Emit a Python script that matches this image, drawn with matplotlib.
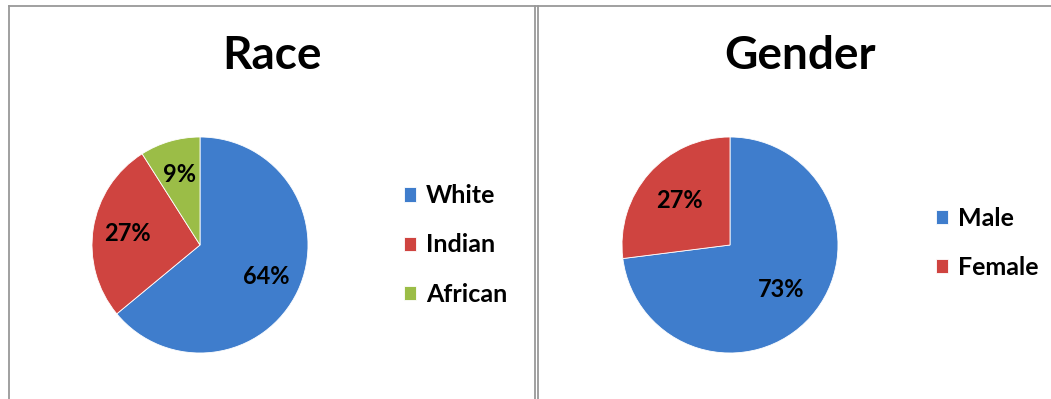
import matplotlib.pyplot as plt
from matplotlib.lines import Line2D

# race breakdown (percent)
race_labels = ['White', 'Indian', 'African']
race_values = [64, 27, 9]
race_colors = ['#3f7dcc', '#cf4440', '#9bbd47']

# gender breakdown (percent)
gender_labels = ['Male', 'Female']
gender_values = [73, 27]
gender_colors = ['#3f7dcc', '#cf4440']

W, H = 1051, 399
plt.rcParams['font.family'] = ['Lato', 'DejaVu Sans']
plt.rcParams['font.weight'] = 'bold'

fig = plt.figure(figsize=(W / 100, H / 100), dpi=100)


def px_axes(cx, cy, r):
    # axes box in figure fractions from a pixel centre and radius
    return fig.add_axes([(cx - r) / W, 1 - (cy + r) / H, 2 * r / W, 2 * r / H])


def draw_pie(ax, values, labels, colors, pct_dist):
    wedges, texts, autotexts = ax.pie(
        values, colors=colors, startangle=90, counterclock=False,
        autopct=lambda p: f'{p:.0f}%', pctdistance=pct_dist, radius=1,
        wedgeprops=dict(edgecolor='white', linewidth=0.6),
        textprops=dict(fontsize=17, fontweight='bold', color='black'))
    ax.set_xlim(-1, 1)
    ax.set_ylim(-1, 1)
    ax.set_aspect('equal')
    ax.axis('off')
    return wedges


ax1 = px_axes(200, 245, 108)
w1 = draw_pie(ax1, race_values, race_labels, race_colors, 0.68)
ax2 = px_axes(730, 245, 108)
w2 = draw_pie(ax2, gender_values, gender_labels, gender_colors, 0.63)

fig.text(272 / W, 1 - 56 / H, 'Race', ha='center', va='center',
         fontsize=33, fontweight='bold')
fig.text(800 / W, 1 - 56 / H, 'Gender', ha='center', va='center',
         fontsize=33, fontweight='bold')

leg_kw = dict(frameon=False, fontsize=18, handlelength=0.5, handleheight=0.5,
              handletextpad=0.4, labelspacing=1.05, borderpad=0,
              loc='center left')
fig.legend(w1, race_labels, bbox_to_anchor=(391 / W, 1 - 245 / H), **leg_kw)
fig.legend(w2, gender_labels, bbox_to_anchor=(923 / W, 1 - 243 / H), **leg_kw)

# panel borders
grey = '#999999'
for xs, ys in [([9, W], [5.5, 5.5]), ([9, 9], [5.5, H]),
               ([534.5, 534.5], [5.5, H]), ([537.5, 537.5], [5.5, H])]:
    fig.add_artist(Line2D([x / W for x in xs], [1 - y / H for y in ys],
                          color=grey, linewidth=1.3))

fig.savefig('out.png', dpi=100)
